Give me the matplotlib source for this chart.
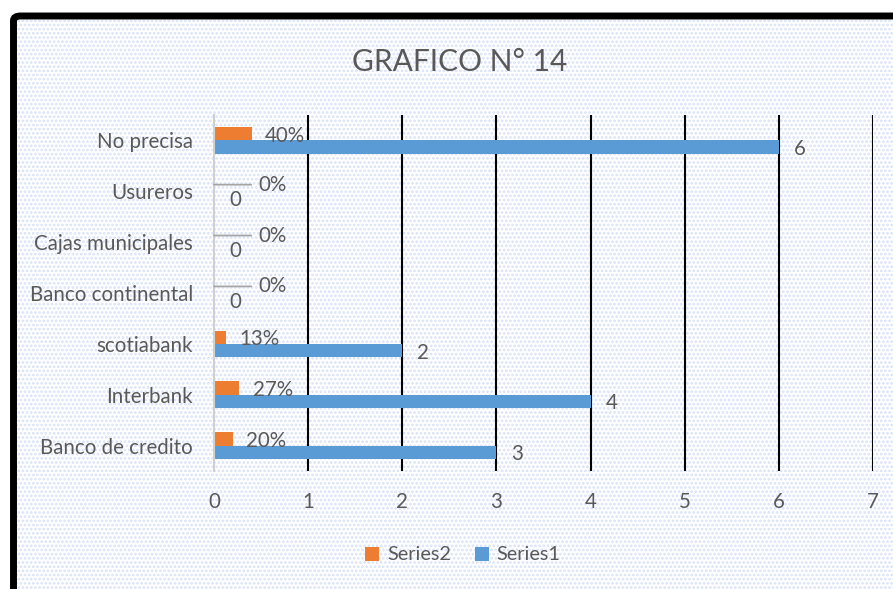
import matplotlib
matplotlib.use("Agg")
import matplotlib.pyplot as plt
from matplotlib.patches import Rectangle, FancyBboxPatch
import numpy as np

categories = ["Banco de credito", "Interbank", "scotiabank", "Banco continental",
              "Cajas municipales", "Usureros", "No precisa"]
series1 = [3, 4, 2, 0, 0, 0, 6]
series2 = [0.20, 0.27, 0.13, 0.0, 0.0, 0.0, 0.40]
xticks = [0, 1, 2, 3, 4, 5, 6, 7]
title = "GRAFICO N° 14"

BLUE = "#5B9BD5"
ORANGE = "#ED7D31"
TXT = "#595959"
FS = 14.8

plt.rcParams['font.family'] = ['Lato', 'DejaVu Sans']
plt.rcParams['hatch.linewidth'] = 1.3

W, H = 893, 589
fig = plt.figure(figsize=(W / 100, H / 100), dpi=100, facecolor="white")

# dotted background inside the frame
bg = Rectangle((17 / W, 0), 1, 1 - 20 / H, transform=fig.transFigure,
               facecolor="white", edgecolor="#d8e1f6", hatch="....", linewidth=0,
               zorder=-10)
fig.patches.append(bg)
# thick black frame (left + top visible)
frame = FancyBboxPatch((13.5 / W, -0.1), 1.2, 1.1 - 16 / H,
                       boxstyle="round,pad=0,rounding_size=0.008",
                       transform=fig.transFigure, facecolor="none",
                       edgecolor="black", linewidth=5.0, zorder=-5)
fig.patches.append(frame)

ax = fig.add_axes([214 / W, 1 - 471 / H, (873 - 214) / W, (471 - 115) / H])
ax.set_facecolor("none")

y = np.arange(len(categories))
h = 0.26
ax.barh(y - h / 2, series1, height=h, color=BLUE, zorder=3, label="Series1")
ax.barh(y + h / 2, series2, height=h, color=ORANGE, zorder=3, label="Series2")

ax.set_xlim(0, 7)
ax.set_ylim(-0.5, len(categories) - 0.5)
ax.set_xticks(xticks)
ax.set_yticks(y)
ax.set_yticklabels(categories)
ax.tick_params(axis="both", length=0, labelcolor=TXT, labelsize=FS)
ax.tick_params(axis="y", pad=15)
ax.tick_params(axis="x", pad=15)

for s in ["top", "right", "bottom"]:
    ax.spines[s].set_visible(False)
ax.spines["left"].set_color("#d0d0d0")
ax.spines["left"].set_linewidth(1.5)
ax.spines["left"].set_zorder(4)

for xv in xticks[1:]:
    ax.axvline(xv, color="black", linewidth=1.5, zorder=2)

# Series1 labels
for yi, v in zip(y, series1):
    ax.annotate(f"{v}", (v, yi - h / 2), xytext=(15, -1.5), textcoords="offset points",
                ha="center", va="center", color=TXT, fontsize=FS, zorder=5)

# Series2 labels
for yi, v in zip(y, series2):
    lab = f"{v:.0%}"
    if v > 0:
        ax.annotate(lab, (v, yi + h / 2), xytext=(24, -1.5), textcoords="offset points",
                    ha="center", va="center", color=TXT, fontsize=FS, zorder=5)
    else:
        dx = 48 if yi == len(categories) - 1 else 42
        ax.annotate(lab, (v, yi + h / 2), xytext=(dx, 0), textcoords="offset points",
                    ha="center", va="center", color=TXT, fontsize=FS, zorder=5,
                    arrowprops=dict(arrowstyle="-", color="#a6a6a6", lw=1.3,
                                    relpos=(0, 0.5), shrinkA=3, shrinkB=0))

fig.text(460 / W, 1 - 62 / H, title, ha="center", va="center", color=TXT,
         fontsize=21.5, fontweight="normal")

handles, labels = ax.get_legend_handles_labels()
leg = fig.legend(handles[::-1], labels[::-1], loc="center",
                 bbox_to_anchor=(463 / W, 1 - 555 / H), ncol=2, frameon=False,
                 fontsize=14.3, handlelength=0.7, handleheight=0.7,
                 handletextpad=0.4, columnspacing=1.2, labelcolor=TXT)

fig.savefig("out.png", dpi=100, facecolor="white")
